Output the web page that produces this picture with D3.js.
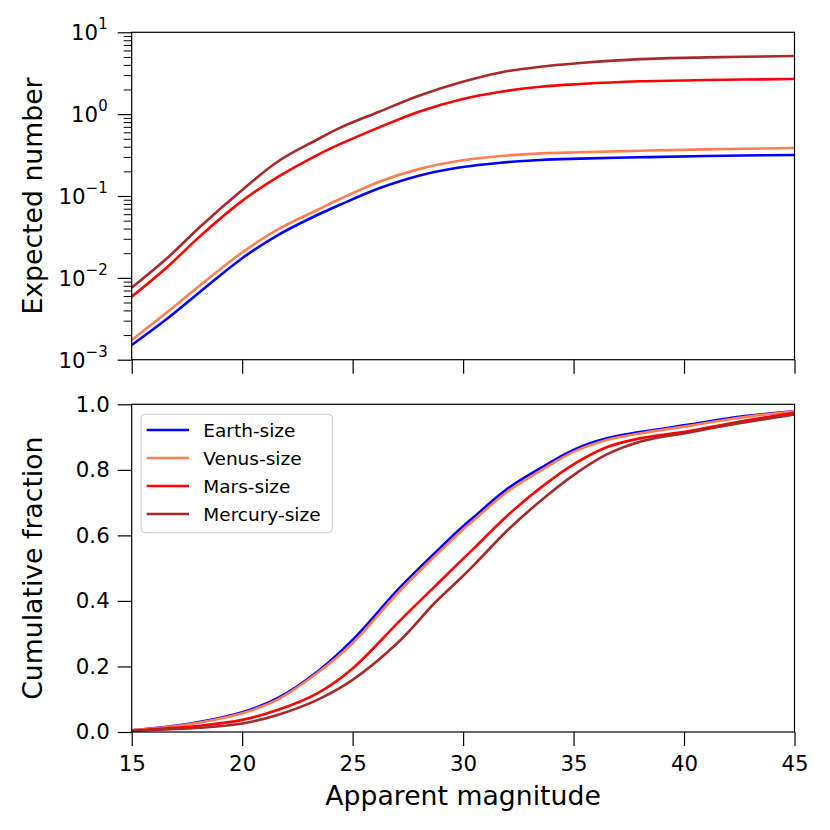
<!DOCTYPE html>
<html><head><meta charset="utf-8">
<script src="https://cdn.jsdelivr.net/npm/d3@7"></script>
<style>body{margin:0;background:#fff}svg{display:block}text{font-family:"DejaVu Sans",sans-serif;fill:#000}</style>
</head><body>
<svg id="c" width="830" height="830"></svg>
<script>
// Data
const seriesNames = ["Earth-size","Venus-size","Mars-size","Mercury-size"];
const seriesColors = ["#0000ff","#ff7f50","#ff0000","#a52a2a"];
const xTicks = [15,20,25,30,35,40,45];
const fracTicks = [0,0.2,0.4,0.6,0.8,1.0];
const expDecades = [-3,-2,-1,0,1];

// Top panel: expected number
const magTop = [15,16.6,18.1,20,21.6,23.4,24.4,26.2,28,29.9,31.7,33.5,35.3,38,41,45];
const expEarth   = [0.00151,0.00316,0.00676,0.01738,0.0331,0.0586,0.0776,0.1242,0.1770,0.2240,0.2553,0.2754,0.2858,0.2972,0.3083,0.3170];
const expVenus   = [0.00174,0.0038,0.00813,0.0204,0.0389,0.0675,0.0912,0.1496,0.2130,0.2710,0.3083,0.3319,0.342,0.357,0.3715,0.3855];
const expMars    = [0.00589,0.01349,0.03236,0.0871,0.1698,0.3162,0.4266,0.690,1.072,1.514,1.879,2.163,2.333,2.518,2.612,2.685];
const expMercury = [0.00759,0.01734,0.0422,0.1183,0.2624,0.490,0.676,1.072,1.679,2.455,3.236,3.802,4.207,4.699,4.943,5.129];

// Bottom panel: cumulative fraction
const magBot = [15,16.6,18.1,20,21.6,23.4,25,27.1,28.7,29.9,30.5,32,33.5,35,36.5,38,40.3,42.5,45];
const cumEarth   = [0.005,0.016,0.031,0.060,0.103,0.184,0.281,0.438,0.545,0.622,0.657,0.742,0.805,0.861,0.896,0.915,0.939,0.962,0.979];
const cumVenus   = [0.005,0.015,0.029,0.057,0.099,0.180,0.271,0.428,0.535,0.612,0.647,0.733,0.797,0.855,0.891,0.911,0.935,0.959,0.979];
const cumMars    = [0.004,0.011,0.019,0.037,0.067,0.118,0.194,0.337,0.443,0.522,0.561,0.660,0.745,0.817,0.869,0.896,0.919,0.947,0.974];
const cumMercury = [0.004,0.008,0.013,0.026,0.052,0.098,0.159,0.276,0.393,0.470,0.510,0.615,0.705,0.784,0.847,0.886,0.915,0.942,0.969];

const expSeries = [expEarth, expVenus, expMars, expMercury];
const cumSeries = [cumEarth, cumVenus, cumMars, cumMercury];

const svg = d3.select("#c");
const L = 131.7, R = 794.5;
const top1 = 32.3, bot1 = 359.7, top2 = 404.3, bot2 = 732;

const x = d3.scaleLinear().domain([15,45]).range([L,R]);
const yTop = d3.scaleLog().domain([1e-3,10]).range([bot1,top1]);
const yBot = d3.scaleLinear().domain([0,1]).range([bot2,top2]);

svg.append("clipPath").attr("id","ct").append("rect")
  .attr("x",L).attr("y",top1).attr("width",R-L).attr("height",bot1-top1);
svg.append("clipPath").attr("id","cb").append("rect")
  .attr("x",L).attr("y",top2).attr("width",R-L).attr("height",bot2-top2);

const curve = d3.curveCatmullRom.alpha(0.5);
// Top lines
const gT = svg.append("g").attr("clip-path","url(#ct)");
expSeries.forEach((s,i)=>{
  const line = d3.line().x((d,j)=>x(magTop[j])).y(d=>yTop(d)).curve(curve);
  gT.append("path").attr("d",line(s)).attr("fill","none")
    .attr("stroke",seriesColors[i]).attr("stroke-width",2.6).attr("stroke-linejoin","round");
});
// Bottom lines
const gB = svg.append("g").attr("clip-path","url(#cb)");
cumSeries.forEach((s,i)=>{
  const line = d3.line().x((d,j)=>x(magBot[j])).y(d=>yBot(d)).curve(curve);
  gB.append("path").attr("d",line(s)).attr("fill","none")
    .attr("stroke",seriesColors[i]).attr("stroke-width",2.6).attr("stroke-linejoin","round");
});

// Frames
[[top1,bot1],[top2,bot2]].forEach(([t,b])=>{
  svg.append("rect").attr("x",L).attr("y",t).attr("width",R-L).attr("height",b-t)
    .attr("fill","none").attr("stroke","#000").attr("stroke-width",1.2);
});

function styleAxis(g){
  g.select(".domain").remove();
  g.selectAll("line").attr("stroke","#000").attr("stroke-width",1.2);
  g.selectAll("text").attr("font-size","21.3px").attr("font-family","DejaVu Sans");
}

// Top x axis (no labels)
const axT = svg.append("g").attr("transform",`translate(0,${bot1})`)
  .call(d3.axisBottom(x).tickValues(xTicks).tickSize(14).tickFormat(""));
styleAxis(axT);
// Bottom x axis
const axB = svg.append("g").attr("transform",`translate(0,${bot2})`)
  .call(d3.axisBottom(x).tickValues(xTicks).tickSize(14).tickPadding(10).tickFormat(d3.format("d")));
styleAxis(axB);
axB.selectAll("text").attr("dy","0.71em");

// Bottom y axis
const ayB = svg.append("g").attr("transform",`translate(${L},0)`)
  .call(d3.axisLeft(yBot).tickValues(fracTicks).tickSize(14).tickPadding(8).tickFormat(d3.format(".1f")));
styleAxis(ayB);

// Top y axis (log)
const majors = expDecades.map(k=>Math.pow(10,k));
const minors = [];
for (let k=-3;k<1;k++) for (let m=2;m<=9;m++) minors.push(m*Math.pow(10,k));
const ayTmin = svg.append("g").attr("transform",`translate(${L},0)`)
  .call(d3.axisLeft(yTop).tickValues(minors).tickSize(8).tickFormat(""));
ayTmin.select(".domain").remove();
ayTmin.selectAll("line").attr("stroke","#000").attr("stroke-width",1.0);
const ayT = svg.append("g").attr("transform",`translate(${L},0)`)
  .call(d3.axisLeft(yTop).tickValues(majors).tickSize(14).tickPadding(7).tickFormat(""));
styleAxis(ayT);
ayT.selectAll(".tick").each(function(d){
  const k = Math.round(Math.log10(d));
  const t = d3.select(this).append("text").attr("x",-24).attr("y",0).attr("dy","0.36em")
    .attr("text-anchor","end").attr("font-size","21.3px");
  t.append("tspan").text("10");
  t.append("tspan").attr("font-size","15px").attr("dy","-0.75em")
    .text(k<0 ? "\u2212"+Math.abs(k) : String(k));
});

// Axis labels
svg.append("text").attr("x",(L+R)/2).attr("y",805).attr("text-anchor","middle")
  .attr("font-size","26.7px").text("Apparent magnitude");
svg.append("text").attr("transform",`translate(42,${(top1+bot1)/2}) rotate(-90)`)
  .attr("text-anchor","middle").attr("font-size","26.7px").text("Expected number");
svg.append("text").attr("transform",`translate(42,${(top2+bot2)/2}) rotate(-90)`)
  .attr("text-anchor","middle").attr("font-size","26.7px").text("Cumulative fraction");

// Legend
const lg = svg.append("g");
lg.append("rect").attr("x",141).attr("y",414.3).attr("width",191.3).attr("height",118.4)
  .attr("rx",4).attr("fill","#fff").attr("fill-opacity",0.8).attr("stroke","#cccccc").attr("stroke-width",1);
seriesNames.forEach((n,i)=>{
  const yy = 430 + i*28;
  lg.append("line").attr("x1",146.7).attr("x2",189).attr("y1",yy).attr("y2",yy)
    .attr("stroke",seriesColors[i]).attr("stroke-width",2.6);
  lg.append("text").attr("x",203.3).attr("y",yy).attr("dy","0.36em")
    .attr("font-size","18.5px").text(n);
});
</script>
</body></html>
